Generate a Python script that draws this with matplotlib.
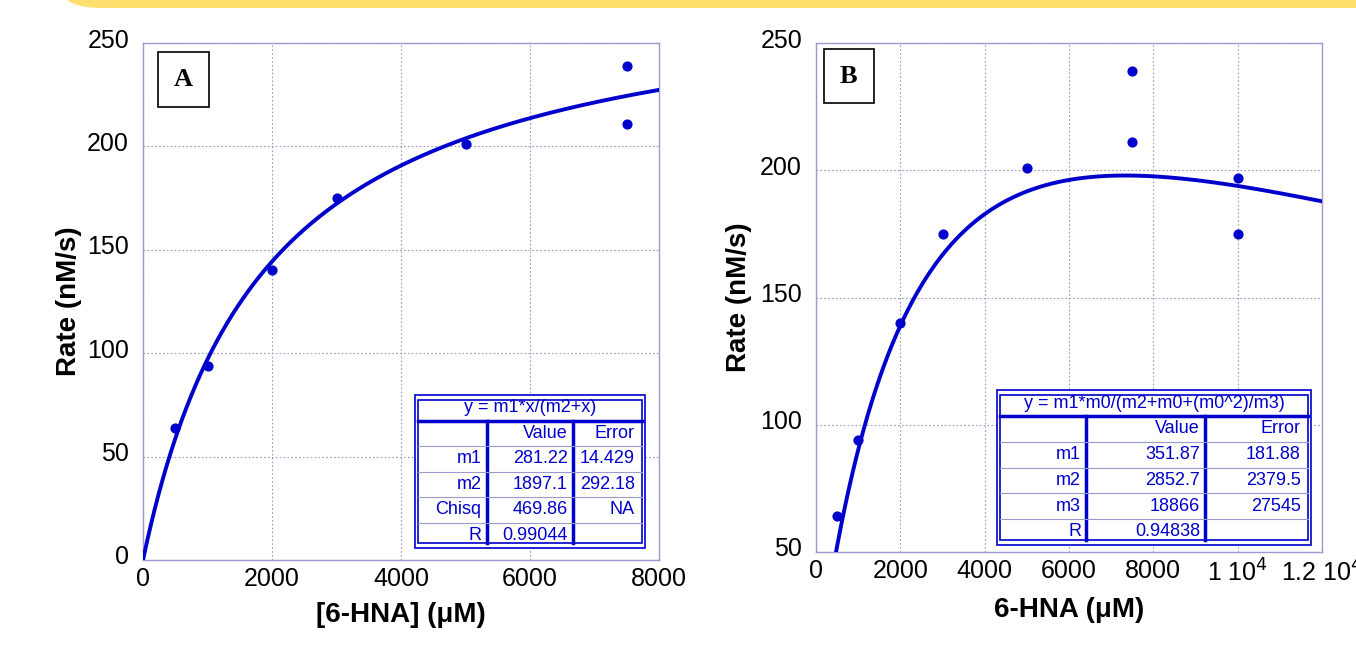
import numpy as np
import matplotlib.pyplot as plt
from matplotlib.patches import FancyBboxPatch, Rectangle
from matplotlib.transforms import ScaledTranslation

plt.rcParams['font.family'] = ['Liberation Sans', 'DejaVu Sans']

# measured substrate concentrations (uM) and rates (nM/s)
conc_a = [500, 1000, 2000, 3000, 5000, 7500, 7500]
rate_a = [64, 94, 140, 175, 201, 239, 211]
conc_b = [500, 1000, 2000, 3000, 5000, 7500, 7500, 10000, 10000]
rate_b = [64, 94, 140, 175, 201, 239, 211, 197, 175]

# fit parameters from the KaleidaGraph tables
fit_a = {'m1': 281.22, 'm2': 1897.1}
fit_b = {'m1': 351.87, 'm2': 2852.7, 'm3': 18866}

table_a_eq = "y = m1*x/(m2+x)"
table_a_rows = [["", "Value", "Error"],
                ["m1", "281.22", "14.429"],
                ["m2", "1897.1", "292.18"],
                ["Chisq", "469.86", "NA"],
                ["R", "0.99044", ""]]
table_b_eq = "y = m1*m0/(m2+m0+(m0^2)/m3)"
table_b_rows = [["", "Value", "Error"],
                ["m1", "351.87", "181.88"],
                ["m2", "2852.7", "2379.5"],
                ["m3", "18866", "27545"],
                ["R", "0.94838", ""]]

BLUE = '#0000cc'
FRAME = '#9a9acc'


def style_axes(ax, fig):
    for s in ax.spines.values():
        s.set_color(FRAME)
        s.set_linewidth(1.0)
    ax.grid(True, color=FRAME, linestyle=(0, (1.5, 2)), linewidth=0.8)
    ax.tick_params(axis='x', labelsize=18, length=0, pad=5)
    ax.tick_params(axis='y', labelsize=18, length=0, pad=10)
    # y labels sit a little above their gridline in the original
    up = ScaledTranslation(0, 5 / 100, fig.dpi_scale_trans)
    for lab in ax.get_yticklabels():
        lab.set_transform(lab.get_transform() + up)


def draw_table(ax, x0, x1, y0, y1, cols, eq, rows):
    # cols: x positions of the two column dividers (axes coords)
    tr = ax.transAxes
    n = len(rows) + 1
    h = (y1 - y0) / n
    ax.add_patch(Rectangle((x0, y0), x1 - x0, y1 - y0, transform=tr,
                           fc='white', ec=BLUE, lw=1.2, zorder=5))
    d = 0.006
    ax.add_patch(Rectangle((x0 + d, y0 + d * 1.6), x1 - x0 - 2 * d, y1 - y0 - 3.2 * d,
                           transform=tr, fc='none', ec=BLUE, lw=1.2, zorder=6))
    ax.text((x0 + x1) / 2, y1 - h / 2, eq, transform=tr, ha='center', va='center',
            color=BLUE, fontsize=13, zorder=7)
    yh = y1 - h
    ax.plot([x0 + d, x1 - d], [yh, yh], transform=tr, color=BLUE, lw=2.5, zorder=6)
    for c in cols:
        ax.plot([c, c], [y0 + d * 1.6, yh], transform=tr, color=BLUE, lw=2.5, zorder=6)
    for i in range(1, len(rows)):
        yy = yh - i * h
        ax.plot([x0 + d, x1 - d], [yy, yy], transform=tr, color=FRAME, lw=0.8, zorder=6)
    rights = [cols[0] - 0.01, cols[1] - 0.01, x1 - d - 0.014]
    for i, r in enumerate(rows):
        yc = yh - (i + 0.5) * h
        for j, t in enumerate(r):
            ax.text(rights[j], yc, t, transform=tr, ha='right', va='center',
                    color=BLUE, fontsize=13, zorder=7)


def panel_label(ax, s, x, y):
    ax.text(x, y, s, transform=ax.transAxes, ha='center', va='center',
            fontsize=19, fontweight='bold', family=['Liberation Serif', 'DejaVu Serif'],
            bbox=dict(boxstyle='square,pad=0.6', fc='white', ec='black', lw=1.2), zorder=8)


fig = plt.figure(figsize=(13.56, 6.45), dpi=100)
W, H = 1356, 645

# yellow band at the top (slide background)
fig.patches.append(FancyBboxPatch((62 / W, 1 - 8 / H), 1.1, 0.2,
                                  boxstyle='round,pad=0,rounding_size=0.03',
                                  transform=fig.transFigure, fc='#ffe06e', ec='none', zorder=0))

ax1 = fig.add_axes([143 / W, 1 - 560 / H, 516 / W, 517 / H])
ax2 = fig.add_axes([816 / W, 1 - 552 / H, 506 / W, 509 / H])

# panel A
xa = np.linspace(0, 8000, 400)
ya = fit_a['m1'] * xa / (fit_a['m2'] + xa)
ax1.plot(xa, ya, color=BLUE, lw=2.8, zorder=3)
ax1.scatter(conc_a, rate_a, s=40, color=BLUE, zorder=4)
ax1.set_xlim(0, 8000)
ax1.set_ylim(0, 250)
ax1.set_xticks([0, 2000, 4000, 6000, 8000])
ax1.set_yticks([0, 50, 100, 150, 200, 250])
style_axes(ax1, fig)
ax1.set_xlabel('[6-HNA] (μM)', fontsize=20, fontweight='bold', labelpad=8)
ax1.set_ylabel('Rate (nM/s)', fontsize=20, fontweight='bold', labelpad=4)
draw_table(ax1, 0.527, 0.973, 0.023, 0.319, [0.666, 0.833], table_a_eq, table_a_rows)
panel_label(ax1, 'A', 0.078, 0.93)

# panel B
xb = np.linspace(400, 12000, 500)
yb = fit_b['m1'] * xb / (fit_b['m2'] + xb + xb ** 2 / fit_b['m3'])
ax2.plot(xb, yb, color=BLUE, lw=2.8, zorder=3)
ax2.scatter(conc_b, rate_b, s=40, color=BLUE, zorder=4)
ax2.set_xlim(0, 12000)
ax2.set_ylim(50, 250)
ax2.set_xticks([0, 2000, 4000, 6000, 8000, 10000, 12000])
ax2.set_xticklabels(['0', '2000', '4000', '6000', '8000', '1 10$^4$', '1.2 10$^4$'])
ax2.set_yticks([50, 100, 150, 200, 250])
style_axes(ax2, fig)
ax2.set_xlabel('6-HNA (μM)', fontsize=20, fontweight='bold', labelpad=8)
ax2.set_ylabel('Rate (nM/s)', fontsize=20, fontweight='bold', labelpad=6)
draw_table(ax2, 0.358, 0.978, 0.014, 0.318, [0.534, 0.769], table_b_eq, table_b_rows)
panel_label(ax2, 'B', 0.065, 0.935)

fig.savefig('out.png', dpi=100)
